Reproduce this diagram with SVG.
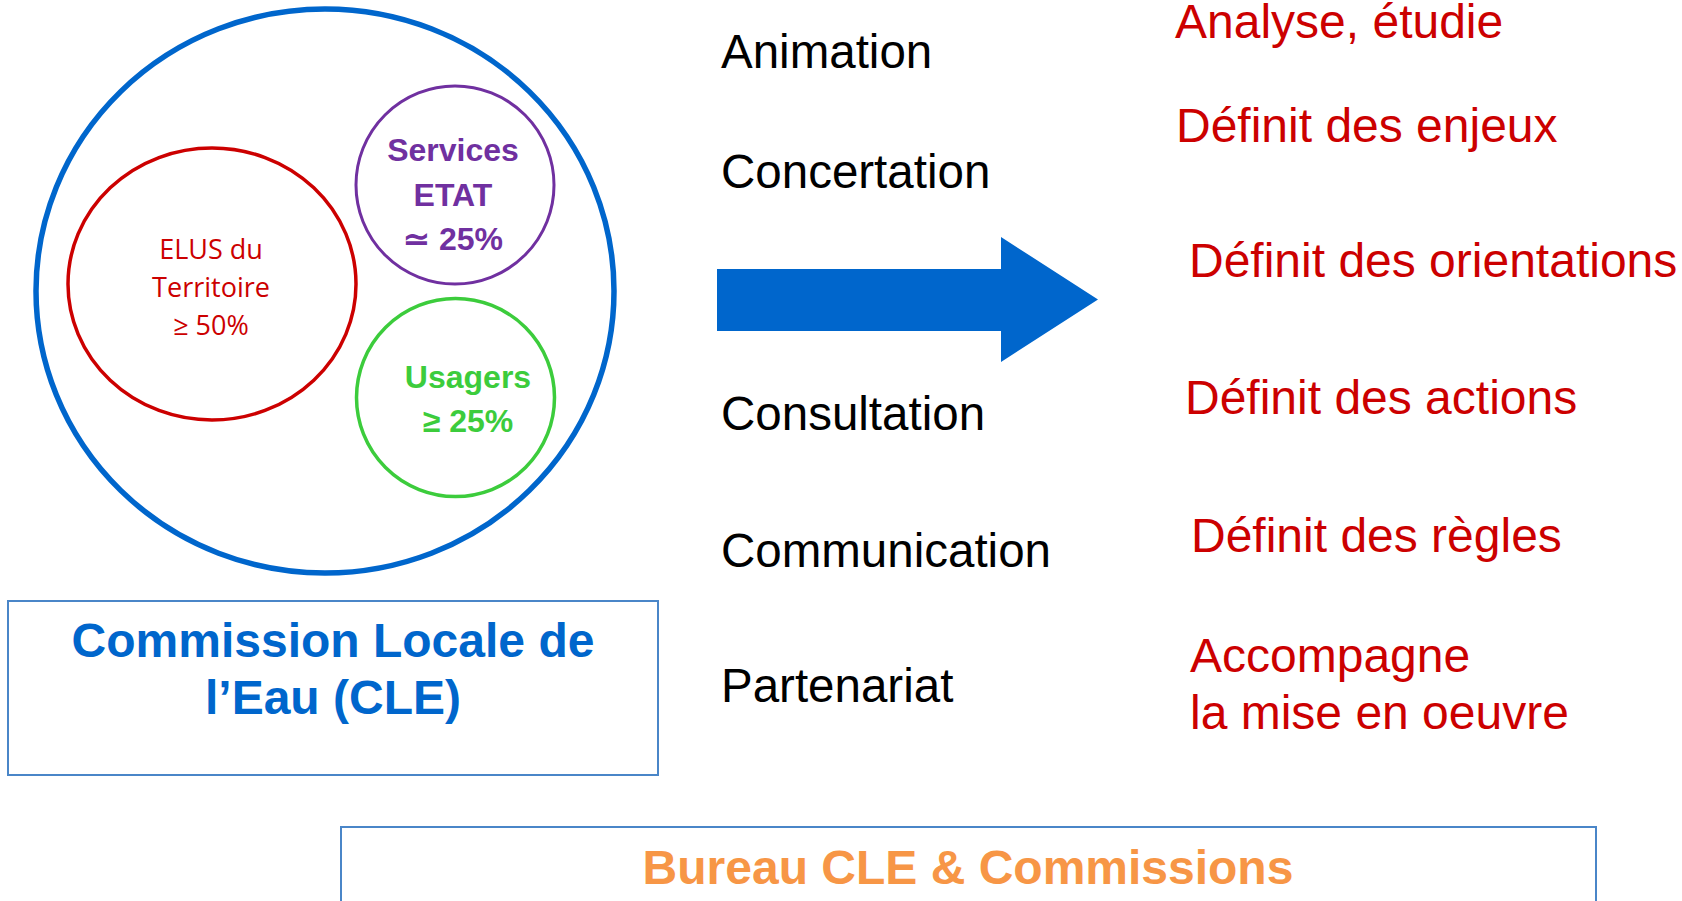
<svg xmlns="http://www.w3.org/2000/svg" width="1682" height="901" viewBox="0 0 1682 901">
<style>
.bg{fill:#ffffff}
.ring{fill:none}
.box{fill:#ffffff;stroke:#4a86c8;stroke-width:2}
.sans{font-family:"Liberation Sans",Arial,sans-serif}
.soft{font-family:"Open Sans","Noto Sans",sans-serif}
.act{font-size:47.5px;fill:#000000}
.res{font-size:48px;fill:#cc0000}
.bold{font-weight:bold}
.mid{text-anchor:middle}
</style>
<rect class="bg" x="0" y="0" width="1682" height="901"/>
<g id="cle-circle">
<ellipse class="ring" cx="325" cy="291" rx="289" ry="282" stroke="#0066cc" stroke-width="5.5"/>
</g>
<g id="elus">
<ellipse class="ring" cx="212" cy="284" rx="144" ry="136" stroke="#cc0000" stroke-width="3.5"/>
<text class="soft mid" x="211" y="259" font-size="27" fill="#cc0000">ELUS du</text>
<text class="soft mid" x="211" y="297" font-size="27" fill="#cc0000">Territoire</text>
<text class="soft mid" x="211" y="335" font-size="27" fill="#cc0000">≥ 50%</text>
</g>
<g id="services-etat">
<ellipse class="ring" cx="455" cy="185" rx="99" ry="99" stroke="#7030a0" stroke-width="3"/>
<text class="sans bold mid" x="453" y="161" font-size="32" fill="#7030a0">Services</text>
<text class="sans bold mid" x="453" y="206" font-size="32" fill="#7030a0">ETAT</text>
<text class="sans bold mid" x="453" y="250" font-size="32" fill="#7030a0">≃ 25%</text>
</g>
<g id="usagers">
<ellipse class="ring" cx="455.5" cy="397.5" rx="99" ry="99" stroke="#3ccc3c" stroke-width="3.5"/>
<text class="sans bold mid" x="468" y="388" font-size="32" fill="#3ccc3c">Usagers</text>
<text class="sans bold mid" x="468" y="432" font-size="32" fill="#3ccc3c">≥ 25%</text>
</g>
<g id="cle-box">
<rect class="box" x="8" y="601" width="650" height="174"/>
<text class="sans bold mid" x="333" y="657" font-size="48" fill="#0066cc">Commission Locale de</text>
<text class="sans bold mid" x="333" y="714" font-size="48" fill="#0066cc">l’Eau (CLE)</text>
</g>
<g id="bureau-box">
<rect class="box" x="341" y="827" width="1255" height="90"/>
<text class="sans bold mid" x="968" y="884" font-size="48" fill="#f79646">Bureau CLE &amp; Commissions</text>
</g>
<g id="connectors">
<path d="M717 269 L1001 269 L1001 237 L1098 299.5 L1001 362 L1001 331 L717 331 Z" fill="#0066cc"/>
</g>
<g id="actions">
<text class="sans act" x="721" y="68">Animation</text>
<text class="sans act" x="721" y="188">Concertation</text>
<text class="sans act" x="721" y="430">Consultation</text>
<text class="sans act" x="721" y="567">Communication</text>
<text class="sans act" x="721" y="702">Partenariat</text>
</g>
<g id="results">
<text class="sans res" x="1175" y="38">Analyse, étudie</text>
<text class="sans res" x="1176" y="142">Définit des enjeux</text>
<text class="sans res" x="1189" y="277">Définit des orientations</text>
<text class="sans res" x="1185" y="414">Définit des actions</text>
<text class="sans res" x="1191" y="552">Définit des règles</text>
<text class="sans res" x="1190" y="672">Accompagne</text>
<text class="sans res" x="1190" y="729">la mise en oeuvre</text>
</g>
</svg>
